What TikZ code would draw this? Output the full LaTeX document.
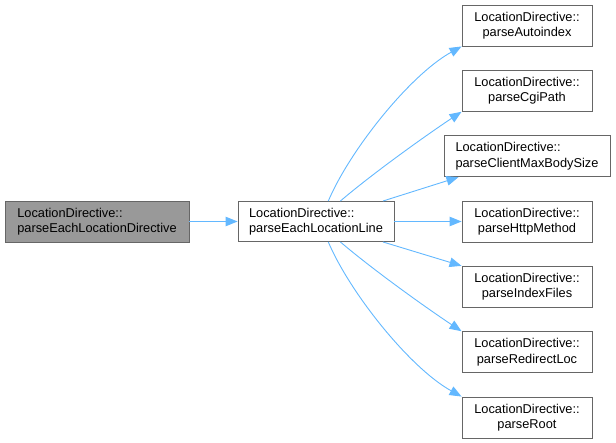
\documentclass[tikz,border=0pt]{standalone}
\usepackage{fontspec}
\setmainfont{Liberation Sans}
\usetikzlibrary{arrows.meta}
\definecolor{edgeblue}{HTML}{63B8FF}
\definecolor{boxborder}{HTML}{666666}
\definecolor{boxfill}{HTML}{999999}
\tikzset{
  fbox/.style={rectangle, draw=boxborder, line width=0.9pt, fill=white, inner sep=0pt,
    minimum height=41pt, font=\fontsize{12.8}{15.5}\selectfont},
  cbox/.style={fbox, align=center, minimum width=130pt},
  lbox/.style={fbox, align=left},
  conn/.style={draw=edgeblue, line width=0.9pt, -{Triangle[length=12pt,width=9.5pt]}}
}
\begin{document}
\begin{tikzpicture}[x=1pt,y=-1pt]
\useasboundingbox (0,0) rectangle (616,443);
\node[lbox, minimum width=184pt, fill=boxfill] (src) at (97,221.5) {LocationDirective::\\parseEachLocationDirective};
\node[lbox, minimum width=156pt, minimum height=40pt] (mid) at (316,221.5) {LocationDirective::\\parseEachLocationLine};
\node[cbox] (auto) at (527,25.5) {LocationDirective::\\parseAutoindex};
\node[cbox] (cgi) at (527,90.8) {LocationDirective::\\parseCgiPath};
\node[lbox, minimum width=166pt] (client) at (527,156.2) {LocationDirective::\\parseClientMaxBodySize};
\node[cbox] (http) at (527,221.5) {LocationDirective::\\parseHttpMethod};
\node[cbox] (index) at (527,286.8) {LocationDirective::\\parseIndexFiles};
\node[cbox] (redir) at (527,352.2) {LocationDirective::\\parseRedirectLoc};
\node[cbox] (root) at (527,417.5) {LocationDirective::\\parseRoot};

\draw[conn] (src.east) -- (mid.west);
\draw[conn] (mid.59.7) .. controls (350,150) and (410,75) .. (auto.south west);
\draw[conn] (mid.40.5) .. controls (372,174) and (425,136) .. (cgi.south west);
\draw[conn] (mid.17) -- (client.-163.7);
\draw[conn] (mid.east) -- (http.west);
\draw[conn] (mid.-17) -- (index.north west);
\draw[conn] (mid.-40.5) .. controls (372,269) and (425,307) .. (redir.north west);
\draw[conn] (mid.-59.7) .. controls (350,293) and (410,368) .. (root.north west);
\end{tikzpicture}
\end{document}
